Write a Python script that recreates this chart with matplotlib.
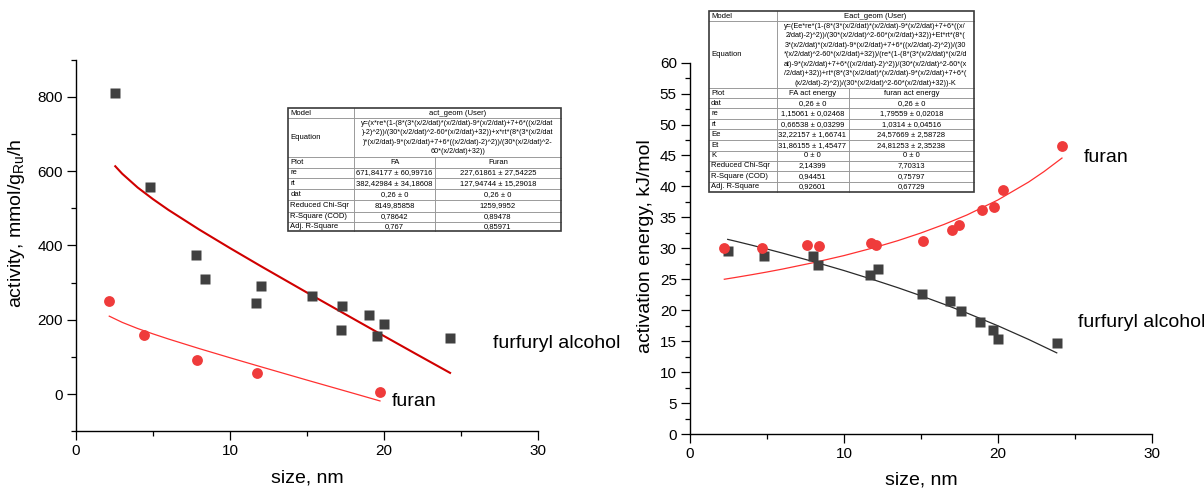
import matplotlib.pyplot as plt
from matplotlib.patches import Rectangle
from matplotlib.ticker import MultipleLocator

plt.rcParams['font.family'] = ['Liberation Sans', 'DejaVu Sans']

# activity vs particle size
fa_size = [2.55, 4.81, 7.79, 8.35, 11.69, 12.01, 15.35, 17.25, 17.21, 19.0, 19.52, 20.0, 24.29]
fa_activity = [810, 556, 373, 309, 244, 291, 264, 236, 173, 213, 157, 188, 152]
furan_size = [2.16, 4.39, 7.86, 11.75, 19.74]
furan_activity = [249, 159, 91, 57, 4.5]

# act_geom fit curves
fa_fit_size = [2.55, 3, 4, 5, 6, 8, 10, 12, 15, 18, 20, 22, 24.29]
fa_fit_activity = [612.8, 592.7, 555.7, 524.3, 495.4, 442.5, 392.6, 344.1, 272.9, 202.7, 156.0, 109.6, 56.9]
furan_fit_size = [2.16, 3, 4, 5, 6, 8, 10, 12, 15, 18, 19.74]
furan_fit_activity = [209.5, 192.8, 176.3, 161.8, 148.1, 122.3, 97.6, 73.4, 37.5, 2.1, -18.6]

# activation energy vs particle size
fa_e_size = [2.45, 4.81, 8.0, 8.3, 11.68, 12.22, 15.1, 16.9, 17.6, 18.87, 19.67, 20.04, 23.83]
fa_energy = [29.5, 28.8, 28.76, 27.36, 25.74, 26.6, 22.6, 21.5, 19.8, 18.1, 16.85, 15.4, 14.75]
furan_e_size = [2.23, 4.68, 7.61, 8.36, 11.74, 12.07, 15.12, 17.03, 17.46, 18.98, 19.78, 20.35, 24.17]
furan_energy = [30.1, 30.1, 30.5, 30.37, 30.8, 30.5, 31.2, 32.9, 33.7, 36.2, 36.7, 39.4, 46.5]

# Eact_geom fit curves
fa_e_fit_size = [2.45, 3, 4, 5, 6, 8, 10, 12, 13.5, 15, 16.5, 18, 20, 22, 23.83]
fa_e_fit = [31.44, 31.12, 30.51, 29.88, 29.23, 27.86, 26.41, 24.86, 23.64, 22.34, 20.97, 19.54, 17.49, 15.28, 13.11]
furan_e_fit_size = [2.23, 3, 4, 5, 6, 8, 10, 12, 13.5, 15, 16.5, 18, 20, 22, 23, 24.17]
furan_e_fit = [25.00, 25.31, 25.73, 26.17, 26.64, 27.67, 28.82, 30.13, 31.23, 32.47, 33.85, 35.39, 37.80, 40.70, 42.39, 44.58]

# fit report tables
act_eq = [
    "y=(x*re*(1-(8*(3*(x/2/dat)*(x/2/dat)-9*(x/2/dat)+7+6*((x/2/dat",
    ")-2)^2))/(30*(x/2/dat)^2-60*(x/2/dat)+32))+x*rt*(8*(3*(x/2/dat",
    ")*(x/2/dat)-9*(x/2/dat)+7+6*((x/2/dat)-2)^2))/(30*(x/2/dat)^2-",
    "60*(x/2/dat)+32))",
]
act_rows = [
    ["Plot", "FA", "Furan"],
    ["re", "671,84177 \u00b1 60,99716", "227,61861 \u00b1 27,54225"],
    ["rt", "382,42984 \u00b1 34,18608", "127,94744 \u00b1 15,29018"],
    ["dat", "0,26 \u00b1 0", "0,26 \u00b1 0"],
    ["Reduced Chi-Sqr", "8149,85858", "1259,9952"],
    ["R-Square (COD)", "0,78642", "0,89478"],
    ["Adj. R-Square", "0,767", "0,85971"],
]
eact_eq = [
    "y=(Ee*re*(1-(8*(3*(x/2/dat)*(x/2/dat)-9*(x/2/dat)+7+6*((x/",
    "2/dat)-2)^2))/(30*(x/2/dat)^2-60*(x/2/dat)+32))+Et*rt*(8*(",
    "3*(x/2/dat)*(x/2/dat)-9*(x/2/dat)+7+6*((x/2/dat)-2)^2))/(30",
    "*(x/2/dat)^2-60*(x/2/dat)+32))/(re*(1-(8*(3*(x/2/dat)*(x/2/d",
    "at)-9*(x/2/dat)+7+6*((x/2/dat)-2)^2))/(30*(x/2/dat)^2-60*(x",
    "/2/dat)+32))+rt*(8*(3*(x/2/dat)*(x/2/dat)-9*(x/2/dat)+7+6*(",
    "(x/2/dat)-2)^2))/(30*(x/2/dat)^2-60*(x/2/dat)+32))-K",
]
eact_rows = [
    ["Plot", "FA act energy", "furan act energy"],
    ["dat", "0,26 \u00b1 0", "0,26 \u00b1 0"],
    ["re", "1,15061 \u00b1 0,02468", "1,79559 \u00b1 0,02018"],
    ["rt", "0,66538 \u00b1 0,03299", "1,0314 \u00b1 0,04516"],
    ["Ee", "32,22157 \u00b1 1,66741", "24,57669 \u00b1 2,58728"],
    ["Et", "31,86155 \u00b1 1,45477", "24,81253 \u00b1 2,35238"],
    ["K", "0 \u00b1 0", "0 \u00b1 0"],
    ["Reduced Chi-Sqr", "2,14399", "7,70313"],
    ["R-Square (COD)", "0,94451", "0,75797"],
    ["Adj. R-Square", "0,92601", "0,67729"],
]

SQ = '#404040'
DOT = '#ef3b3b'
W, H = 1204, 488


def style_axes(ax):
    for side in ('top', 'right'):
        ax.spines[side].set_visible(False)
    for side in ('left', 'bottom'):
        ax.spines[side].set_linewidth(1.0)
    ax.tick_params(which='major', direction='out', length=6.5, width=0.9,
                   labelsize=11, pad=3)
    ax.tick_params(which='minor', direction='out', length=3.4, width=0.9)
    ax.set_xlim(0, 30)
    ax.xaxis.set_major_locator(MultipleLocator(10))
    ax.xaxis.set_minor_locator(MultipleLocator(5))
    ax.set_facecolor('none')


def fit_table(ov, x_edges, y_edges, model, eq_lines, rows, fs=5.5):
    x0, x1, x2, x3 = x_edges
    top, bottom = y_edges[0], y_edges[-1]
    ov.add_patch(Rectangle((x0, top), x3 - x0, bottom - top,
                           facecolor='white', edgecolor='none', zorder=1))
    # horizontal rules
    for y in y_edges[1:-1]:
        ov.plot([x0, x3], [y, y], color='#9a9a9a', lw=0.7, zorder=2)
    ov.plot([x1, x1], [top, bottom], color='#9a9a9a', lw=0.7, zorder=2)
    ov.plot([x2, x2], [y_edges[2], bottom], color='#9a9a9a', lw=0.7, zorder=2)
    ov.add_patch(Rectangle((x0, top), x3 - x0, bottom - top,
                           facecolor='none', edgecolor='#3a3a3a', lw=1.2, zorder=3))

    def mid(i):
        return (y_edges[i] + y_edges[i + 1]) / 2

    ov.text(x0 + 2, mid(0), 'Model', fontsize=fs, va='center', zorder=4)
    ov.text((x1 + x3) / 2, mid(0), model, fontsize=fs, va='center', ha='center', zorder=4)
    ov.text(x0 + 2, mid(1), 'Equation', fontsize=fs, va='center', zorder=4)
    clip = Rectangle((x1, y_edges[1]), x3 - x1, y_edges[2] - y_edges[1],
                     transform=ov.transData, facecolor='none', edgecolor='none')
    ov.add_patch(clip)
    n = len(eq_lines)
    step = (y_edges[2] - y_edges[1]) / (n + 0.1)
    for k, line in enumerate(eq_lines):
        t = ov.text((x1 + x3) / 2, y_edges[1] + step * (k + 0.55), line,
                    fontsize=fs - 0.3, va='center', ha='center', zorder=4)
        t.set_clip_path(clip)
    for i, (name, a, b) in enumerate(rows):
        y = mid(i + 2)
        ov.text(x0 + 2, y, name, fontsize=fs, va='center', zorder=4)
        ov.text((x1 + x2) / 2, y, a, fontsize=fs, va='center', ha='center', zorder=4)
        ov.text((x2 + x3) / 2, y, b, fontsize=fs, va='center', ha='center', zorder=4)


fig = plt.figure(figsize=(W / 100, H / 100), dpi=100)

# left: activity
ax1 = fig.add_axes([76 / W, 1 - 431.2 / H, 462 / W, 371.7 / H])
style_axes(ax1)
ax1.set_ylim(-100, 900)
ax1.yaxis.set_major_locator(MultipleLocator(200))
ax1.yaxis.set_minor_locator(MultipleLocator(100))
ax1.plot(fa_fit_size, fa_fit_activity, color='#d00000', lw=1.5)
ax1.plot(furan_fit_size, furan_fit_activity, color='#ff3030', lw=0.9)
ax1.plot(fa_size, fa_activity, 's', color=SQ, ms=7, mec='none')
ax1.plot(furan_size, furan_activity, 'o', color=DOT, ms=7.8, mec='none')
ax1.set_xlabel('size, nm', fontsize=14)
ax1.set_ylabel('activity, mmol/g$_\\mathregular{Ru}$/h', fontsize=14)
ax1.xaxis.set_label_coords(0.5, -0.104)
ax1.yaxis.set_label_coords(-0.105, 0.56)
ax1.text(27.1, 137, 'furfuryl alcohol', fontsize=14, va='center')
ax1.text(20.5, -21, 'furan', fontsize=14, va='center')

# right: activation energy
ax2 = fig.add_axes([690 / W, 1 - 434 / H, 461.7 / W, 371.4 / H])
style_axes(ax2)
ax2.set_ylim(0, 60)
ax2.yaxis.set_major_locator(MultipleLocator(5))
ax2.yaxis.set_minor_locator(MultipleLocator(2.5))
ax2.plot(fa_e_fit_size, fa_e_fit, color='#2a2a2a', lw=0.9)
ax2.plot(furan_e_fit_size, furan_e_fit, color='#ff3030', lw=0.9)
ax2.plot(fa_e_size, fa_energy, 's', color=SQ, ms=7, mec='none')
ax2.plot(furan_e_size, furan_energy, 'o', color=DOT, ms=7.8, mec='none')
ax2.set_xlabel('size, nm', fontsize=14)
ax2.set_ylabel('activation energy, kJ/mol', fontsize=14)
ax2.xaxis.set_label_coords(0.5, -0.1)
ax2.yaxis.set_label_coords(-0.077, 0.507)
ax2.text(25.6, 44.6, 'furan', fontsize=14, va='center')
ax2.text(25.2, 18.0, 'furfuryl alcohol', fontsize=14, va='center')

# overlay in pixel units for the fit reports
ov = fig.add_axes([0, 0, 1, 1], zorder=5)
ov.set_xlim(0, W)
ov.set_ylim(H, 0)
ov.axis('off')
fit_table(ov, [288.3, 354.3, 435, 561],
          [108.3, 118.3, 156.7, 167.7, 178.3, 189.3, 200, 211.7, 222.3, 231],
          'act_geom (User)', act_eq, act_rows)
fit_table(ov, [709, 776.5, 848.5, 974],
          [11, 21, 88.3, 98.3, 108.3, 119, 129.3, 140, 150.7, 160.7, 171, 181.7, 192.3],
          'Eact_geom (User)', eact_eq, eact_rows)

fig.savefig('out.png', dpi=100)
